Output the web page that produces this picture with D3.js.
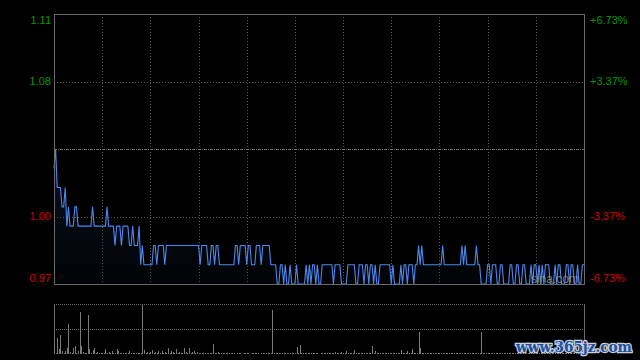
<!DOCTYPE html>
<html>
<head>
<meta charset="utf-8">
<script src="https://cdn.jsdelivr.net/npm/d3@7"></script>
<style>
  html, body { margin: 0; padding: 0; background: #000; }
  svg { display: block; }
</style>
</head>
<body>
<div id="chart"></div>
<script>
// one price per minute, 331 minutes of trading
const prices = [
  1.03,1.04,1.02,1.02,1.02,1.01,1.01,1.02,1.00,1.01,
  1.00,1.00,1.00,1.01,1.01,1.00,1.00,1.00,1.00,1.00,
  1.00,1.00,1.00,1.00,1.01,1.00,1.00,1.00,1.00,1.00,
  1.00,1.00,1.00,1.01,1.00,1.00,1.00,1.00,0.99,1.00,
  1.00,1.00,0.99,1.00,1.00,1.00,1.00,0.99,0.99,1.00,
  0.99,0.99,0.99,1.00,0.98,0.99,0.98,0.98,0.98,0.98,
  0.98,0.98,0.99,0.99,0.98,0.99,0.99,0.99,0.99,0.98,
  0.99,0.99,0.99,0.99,0.99,0.99,0.99,0.99,0.99,0.99,
  0.99,0.99,0.99,0.99,0.99,0.99,0.99,0.99,0.99,0.99,
  0.99,0.98,0.99,0.99,0.99,0.99,0.98,0.98,0.99,0.99,
  0.98,0.99,0.99,0.98,0.98,0.98,0.98,0.98,0.98,0.98,
  0.98,0.98,0.98,0.99,0.99,0.98,0.99,0.99,0.99,0.99,
  0.98,0.99,0.99,0.98,0.98,0.98,0.99,0.99,0.99,0.98,
  0.99,0.99,0.99,0.99,0.99,0.98,0.98,0.98,0.98,0.97,
  0.97,0.98,0.98,0.97,0.98,0.97,0.97,0.98,0.97,0.97,
  0.97,0.98,0.97,0.97,0.97,0.97,0.97,0.98,0.97,0.98,
  0.97,0.98,0.98,0.97,0.98,0.97,0.97,0.98,0.98,0.98,
  0.98,0.98,0.98,0.98,0.97,0.98,0.98,0.98,0.98,0.97,
  0.97,0.97,0.97,0.98,0.98,0.98,0.98,0.98,0.97,0.97,
  0.98,0.98,0.98,0.97,0.98,0.98,0.97,0.98,0.98,0.97,
  0.98,0.97,0.97,0.98,0.98,0.98,0.98,0.98,0.98,0.98,
  0.97,0.98,0.97,0.97,0.97,0.97,0.98,0.97,0.98,0.98,
  0.97,0.98,0.98,0.98,0.97,0.98,0.98,0.99,0.98,0.99,
  0.98,0.98,0.98,0.98,0.98,0.98,0.98,0.98,0.98,0.98,
  0.98,0.98,0.99,0.98,0.98,0.98,0.98,0.98,0.98,0.98,
  0.98,0.98,0.98,0.98,0.99,0.98,0.99,0.98,0.98,0.98,
  0.98,0.98,0.98,0.99,0.98,0.98,0.97,0.97,0.97,0.97,
  0.98,0.98,0.97,0.98,0.98,0.98,0.97,0.97,0.98,0.98,
  0.97,0.97,0.97,0.97,0.98,0.98,0.97,0.97,0.98,0.98,
  0.97,0.97,0.98,0.98,0.97,0.97,0.97,0.98,0.97,0.98,
  0.98,0.97,0.98,0.97,0.98,0.97,0.98,0.98,0.98,0.97,
  0.97,0.97,0.98,0.97,0.98,0.98,0.97,0.97,0.97,0.98,
  0.98,0.97,0.98,0.98,0.97,0.97,0.98,0.97,0.97,0.98,
  0.98
];

const volumes = [
  14,1,16,5,19,3,1,3,6,29,
  2,1,6,8,1,3,41,8,2,1,
  1,38,5,1,4,6,1,2,1,1,
  1,1,5,1,2,1,3,1,1,5,
  3,1,1,1,1,1,1,3,1,1,
  1,1,1,1,1,49,4,1,2,1,
  2,4,1,2,1,3,1,3,1,2,
  1,6,1,3,2,1,5,1,2,1,
  1,6,2,1,6,1,2,3,1,2,
  1,1,1,1,1,1,1,1,1,10,
  1,1,2,1,1,1,1,1,1,1,
  1,1,1,0,1,1,1,0,1,1,
  1,1,0,1,1,1,1,1,0,1,
  1,1,1,1,1,1,43,1,1,1,
  1,1,1,1,1,1,1,1,1,1,
  1,7,1,9,1,1,1,1,1,1,
  1,1,1,1,1,0,1,1,1,1,
  1,1,1,1,1,2,1,1,1,2,
  1,1,3,1,1,1,1,4,1,1,
  1,1,1,1,1,1,1,1,8,1,
  3,1,1,1,1,1,1,1,1,1,
  1,1,1,1,1,1,4,1,1,1,
  3,1,1,5,1,1,1,22,6,1,
  1,1,1,1,1,1,1,1,1,1,
  1,1,1,1,1,1,1,1,1,1,
  1,1,1,1,1,1,1,1,1,1,
  1,1,1,1,1,1,22,1,1,1,
  1,1,1,1,1,1,1,1,1,1,
  1,1,1,1,1,1,1,1,1,1,
  1,1,1,1,1,1,1,1,1,1,
  1,1,1,1,1,1,1,1,1,1,
  1,1,1,1,1,1,1,1,1,1,
  1,1,1,1,1,1,1,1,1,1,
  1
];

const prevClose = 1.04;
const priceTicks = [1.11, 1.075, 1.005, 0.97];
const priceLabels = ["1.11", "1.08", "1.00", "0.97"];
const pctLabels = ["+6.73%", "+3.37%", "-3.37%", "-6.73%"];
const timeTicks = [30, 60, 90, 120, 150, 180, 210, 240, 270, 300];

const width = 640,
  height = 360;

const svg = d3.select("#chart").append("svg")
  .attr("width", width)
  .attr("height", height)
  .style("background", "#000");

const x = d3.scaleLinear().domain([0, 330]).range([54, 584]);
const y = d3.scaleLinear().domain([0.97, 1.11]).range([284, 14]);
const yv = d3.scaleLinear().domain([0, 49]).range([354, 304]);

// gradient under the price line
const grad = svg.append("defs").append("linearGradient")
  .attr("id", "fade")
  .attr("x1", 0).attr("y1", 0).attr("x2", 0).attr("y2", 1);
grad.append("stop").attr("offset", "0%").attr("stop-color", "#1a3a6a").attr("stop-opacity", 0.35);
grad.append("stop").attr("offset", "100%").attr("stop-color", "#0a1220").attr("stop-opacity", 0.2);

// grid
const grid = svg.append("g")
  .attr("stroke", "#5a5a5a")
  .attr("stroke-dasharray", "1,2")
  .attr("shape-rendering", "crispEdges");

grid.selectAll("line.v")
  .data(timeTicks)
  .join("line")
  .attr("x1", d => Math.round(x(d)) + 0.5)
  .attr("x2", d => Math.round(x(d)) + 0.5)
  .attr("y1", y(1.11))
  .attr("y2", y(0.97));

grid.selectAll("line.h")
  .data([1.075, 1.005])
  .join("line")
  .attr("class", "h")
  .attr("x1", x(0))
  .attr("x2", x(330))
  .attr("y1", d => Math.round(y(d)) + 0.5)
  .attr("y2", d => Math.round(y(d)) + 0.5);

// previous close
svg.append("line")
  .attr("x1", x(0))
  .attr("x2", x(330))
  .attr("y1", Math.round(y(prevClose)) + 0.5)
  .attr("y2", Math.round(y(prevClose)) + 0.5)
  .attr("stroke", "#707070")
  .attr("stroke-dasharray", "3,1,1,1")
  .attr("shape-rendering", "crispEdges");

// price area + line
svg.append("path")
  .datum(prices)
  .attr("fill", "url(#fade)")
  .attr("d", d3.area()
    .x((d, i) => x(i))
    .y0(y(0.97))
    .y1(d => y(d)));

svg.append("path")
  .datum(prices)
  .attr("fill", "none")
  .attr("stroke", "#4a88ee")
  .attr("stroke-width", 1.1)
  .attr("d", d3.line()
    .x((d, i) => x(i))
    .y(d => y(d)));

// watermark
svg.append("text")
  .attr("x", 531)
  .attr("y", 283)
  .attr("fill", "#9a9a9a")
  .attr("fill-opacity", 0.75)
  .attr("font-family", "Arial, 'Liberation Sans', sans-serif")
  .attr("font-size", 12)
  .text("sina.com");

// main frame
svg.append("rect")
  .attr("x", 54.5)
  .attr("y", 14.5)
  .attr("width", 530)
  .attr("height", 270)
  .attr("fill", "none")
  .attr("stroke", "#6a6a6a")
  .attr("shape-rendering", "crispEdges");

// price labels
const labelFont = "Arial, 'Liberation Sans', sans-serif";
const labelY = (d, i) => i === 0 ? y(d) + 6 : (i === 3 ? y(d) - 6 : y(d));
const labelColor = d => d > prevClose ? "#009a00" : "#d40000";

svg.append("g")
  .selectAll("text")
  .data(priceTicks)
  .join("text")
  .attr("x", 51)
  .attr("y", labelY)
  .attr("dy", "0.35em")
  .attr("text-anchor", "end")
  .attr("font-family", labelFont)
  .attr("font-size", 11)
  .attr("fill", labelColor)
  .text((d, i) => priceLabels[i]);

svg.append("g")
  .selectAll("text")
  .data(priceTicks)
  .join("text")
  .attr("x", 590)
  .attr("y", labelY)
  .attr("dy", "0.35em")
  .attr("font-family", labelFont)
  .attr("font-size", 11)
  .attr("fill", labelColor)
  .text((d, i) => pctLabels[i]);

// volume panel
const vgrid = svg.append("g")
  .attr("stroke", "#6a6a6a")
  .attr("shape-rendering", "crispEdges");

vgrid.selectAll("line.dot")
  .data([49, 24.5])
  .join("line")
  .attr("x1", x(0))
  .attr("x2", x(330))
  .attr("y1", d => Math.round(yv(d)) + 0.5)
  .attr("y2", d => Math.round(yv(d)) + 0.5)
  .attr("stroke-dasharray", "1,1");

vgrid.selectAll("line.side")
  .data([0, 330])
  .join("line")
  .attr("x1", d => Math.round(x(d)) + 0.5)
  .attr("x2", d => Math.round(x(d)) + 0.5)
  .attr("y1", yv(49))
  .attr("y2", yv(0));

svg.append("g")
  .attr("stroke", "#7a7a7a")
  .attr("shape-rendering", "crispEdges")
  .selectAll("line")
  .data(volumes)
  .join("line")
  .attr("x1", (d, i) => Math.round(x(i)) + 0.5)
  .attr("x2", (d, i) => Math.round(x(i)) + 0.5)
  .attr("y1", yv(0))
  .attr("y2", d => yv(d));

// site watermark
svg.append("text")
  .attr("x", 516)
  .attr("y", 352)
  .attr("fill", "#1f4f9c")
  .attr("stroke", "#c8d0dc")
  .attr("stroke-width", 2.5)
  .attr("paint-order", "stroke")
  .attr("font-family", "'DejaVu Serif', serif")
  .attr("font-weight", "bold")
  .attr("font-size", 14)
  .attr("textLength", 116)
  .attr("lengthAdjust", "spacingAndGlyphs")
  .text("www.365jz.com");
</script>
</body>
</html>
